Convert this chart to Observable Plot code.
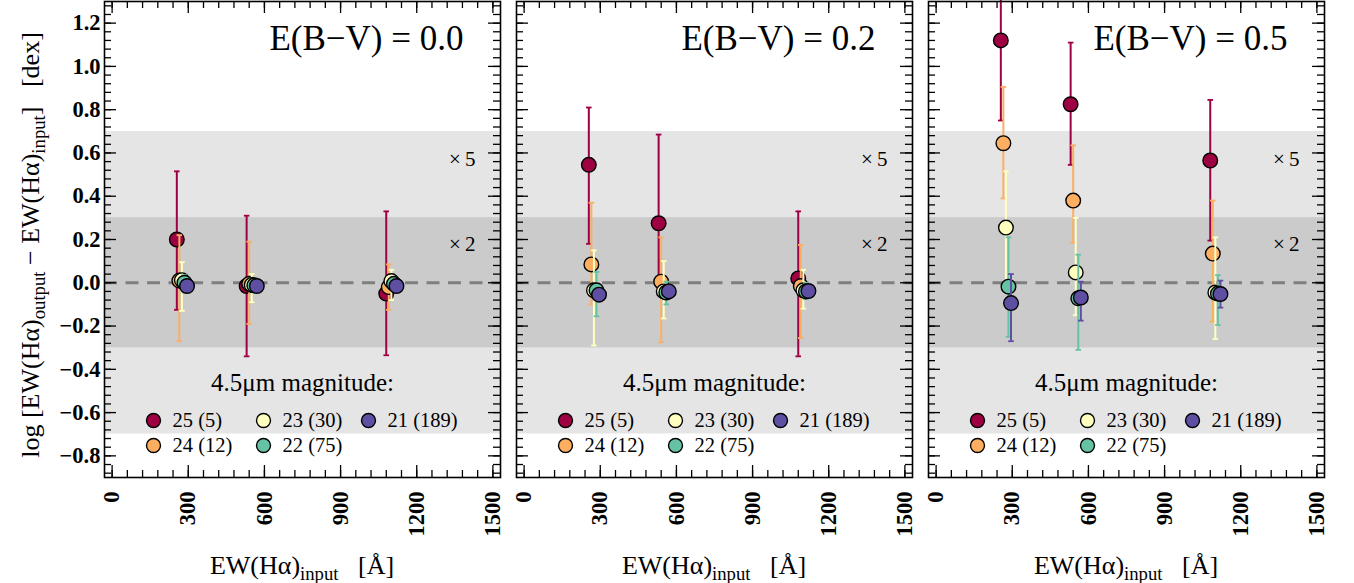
<!DOCTYPE html>
<html>
<head>
<meta charset="utf-8">
<script src="https://cdn.jsdelivr.net/npm/d3@7"></script>
<script src="https://cdn.jsdelivr.net/npm/@observablehq/plot@0.6"></script>
<style>
  body { margin: 0; background: #fff; }
  #fig { position: relative; width: 1354px; height: 583px; overflow: hidden; font-family: "Liberation Serif", serif; }
  #fig svg { position: absolute; top: 0; }
  .lbl { position: absolute; white-space: nowrap; font-size: 26px; color: #000; line-height: 1; }
  .lbl sub { font-size: 0.72em; vertical-align: -0.3em; line-height: 0; }
</style>
</head>
<body>
<div id="fig"></div>
<script>
// Input Hα equivalent widths (Å) and the 4.5μm magnitude bins
const ewInput = [275, 550, 1100];
const magnitudes = [25, 24, 23, 22, 21];
const nSources = [5, 12, 30, 75, 189];
const magColors = ["#9e0142", "#fdae61", "#ffffbf", "#66c2a5", "#5e4fa2"];
const ebvValues = ["0.0", "0.2", "0.5"];
const xTicks = [0, 300, 600, 900, 1200, 1500];
const yTicks = [-0.8, -0.6, -0.4, -0.2, 0.0, 0.2, 0.4, 0.6, 0.8, 1.0, 1.2];

// log EW(output) - log EW(input); rows: magnitude 25..21, columns: EW input 275, 550, 1100
const offsetEbv00 = [
  [0.20, -0.015, -0.05],
  [0.01, -0.005, -0.02],
  [0.012, -0.01, 0.008],
  [0.0, -0.012, -0.005],
  [-0.015, -0.015, -0.015]
];
const lowerEbv00 = [
  [-0.125, -0.34, -0.335],
  [-0.27, -0.19, -0.125],
  [-0.13, -0.09, -0.08],
  [-0.045, -0.045, -0.04],
  [-0.035, -0.035, -0.03]
];
const upperEbv00 = [
  [0.515, 0.31, 0.33],
  [0.22, 0.19, 0.085],
  [0.095, 0.04, 0.06],
  [0.035, 0.015, 0.025],
  [0.005, 0.005, 0.0]
];

const offsetEbv02 = [
  [0.545, 0.275, 0.02],
  [0.085, 0.005, -0.015],
  [-0.035, -0.04, -0.035],
  [-0.035, -0.045, -0.04],
  [-0.055, -0.04, -0.038]
];
const lowerEbv02 = [
  [0.18, -0.02, -0.34],
  [-0.10, -0.275, -0.255],
  [-0.29, -0.165, -0.12],
  [-0.155, -0.10, -0.075],
  [-0.085, -0.065, -0.06]
];
const upperEbv02 = [
  [0.81, 0.685, 0.33],
  [0.37, 0.21, 0.175],
  [0.15, 0.10, 0.06],
  [0.05, 0.005, 0.0],
  [-0.025, -0.015, -0.015]
];

const offsetEbv05 = [
  [1.12, 0.825, 0.565],
  [0.645, 0.38, 0.135],
  [0.255, 0.048, -0.045],
  [-0.018, -0.072, -0.05],
  [-0.094, -0.068, -0.052]
];
const lowerEbv05 = [
  [0.75, 0.545, 0.195],
  [0.39, 0.185, -0.18],
  [-0.01, -0.15, -0.26],
  [-0.25, -0.31, -0.195],
  [-0.27, -0.175, -0.115]
];
const upperEbv05 = [
  [1.45, 1.11, 0.845],
  [0.905, 0.635, 0.38],
  [0.515, 0.30, 0.21],
  [0.21, 0.13, 0.035],
  [0.04, 0.005, 0.01]
];

const panels = [
  {ebv: ebvValues[0], offset: offsetEbv00, lower: lowerEbv00, upper: upperEbv00},
  {ebv: ebvValues[1], offset: offsetEbv02, lower: lowerEbv02, upper: upperEbv02},
  {ebv: ebvValues[2], offset: offsetEbv05, lower: lowerEbv05, upper: upperEbv05}
];

// factor-of-5 and factor-of-2 bands
const bands = [
  {lo: -Math.log10(5), hi: Math.log10(5), fill: "#e5e5e5"},
  {lo: -Math.log10(2), hi: Math.log10(2), fill: "#cbcbcb"}
];
const bandLabels = [{text: "×\u20095", y: 0.57}, {text: "×\u20092", y: 0.18}];

// layout
const frameW = 396;
const frameLeft = [104, 516, 928];
const marginTop = 1, marginBottom = 106, H = 583;
const frameH = H - marginTop - marginBottom;
const dodgePx = 2.55;

const xMinor = d3.range(0, 1501, 60);
const yMinor = d3.range(-22, 33).map(i => i * 0.04);
const fmtY = d => (d < -1e-9 ? "\u2212" : "") + Math.abs(d).toFixed(1);

// horizontal error-bar cap
const capSymbol = {
  draw(context, size) {
    const r = Math.sqrt(size / Math.PI);
    context.moveTo(-r, 0);
    context.lineTo(r, 0);
  }
};

const legendCol = [0, 0, 1, 1, 2];
const legendRow = [0, 1, 0, 1, 0];
const legendDotDx = [49, 159, 264];
const legendTextDx = [68, 178, 283];
const legendRowDy = [419, 444];

const fig = document.getElementById("fig");

panels.forEach((p, pi) => {
  const showY = pi === 0;
  const ml = showY ? 104 : 6;
  const mr = 12;
  const marks = [];

  bands.forEach(b => marks.push(Plot.rect([b], {y1: "lo", y2: "hi", fill: b.fill})));
  marks.push(Plot.ruleY([0], {stroke: "#7f7f7f", strokeWidth: 3, strokeDasharray: "13,8.5"}));
  marks.push(Plot.text(bandLabels, {y: "y", text: "text", frameAnchor: "right", dx: -25, textAnchor: "end",
    fontSize: 21, fontWeight: "normal"}));

  // inward ticks on all four sides
  const tk = {stroke: "black", strokeWidth: 1.3};
  marks.push(Plot.ruleX(xMinor, {x: d => d, insetTop: frameH - 7, ...tk}));
  marks.push(Plot.ruleX(xTicks, {x: d => d, insetTop: frameH - 12, ...tk}));
  marks.push(Plot.ruleX(xMinor, {x: d => d, insetBottom: frameH - 7, ...tk}));
  marks.push(Plot.ruleX(xTicks, {x: d => d, insetBottom: frameH - 12, ...tk}));
  marks.push(Plot.ruleY(yMinor, {y: d => d, insetRight: frameW - 7, ...tk}));
  marks.push(Plot.ruleY(yTicks, {y: d => d, insetRight: frameW - 12, ...tk}));
  marks.push(Plot.ruleY(yMinor, {y: d => d, insetLeft: frameW - 7, ...tk}));
  marks.push(Plot.ruleY(yTicks, {y: d => d, insetLeft: frameW - 12, ...tk}));

  // error bars and points, faintest bin drawn last
  magnitudes.forEach((m, k) => {
    const rows = ewInput.map((ew, j) => ({
      ew, mag: m, y: p.offset[k][j], lo: p.lower[k][j], hi: p.upper[k][j]
    }));
    const dx = (k - 2) * dodgePx;
    const c = magColors[k];
    marks.push(Plot.ruleX(rows, {x: "ew", y1: "lo", y2: "hi", stroke: c, strokeWidth: 2, dx}));
    marks.push(Plot.dot(rows, {x: "ew", y: "lo", symbol: capSymbol, r: 2.8, fill: "none", stroke: c, strokeWidth: 1.8, dx}));
    marks.push(Plot.dot(rows, {x: "ew", y: "hi", symbol: capSymbol, r: 2.8, fill: "none", stroke: c, strokeWidth: 1.8, dx}));
    marks.push(Plot.dot(rows, {x: "ew", y: "y", r: 7.3, fill: c, stroke: "black", strokeWidth: 1.4, dx}));
  });

  // title and legend
  marks.push(Plot.text([`E(B\u2212V) = ${p.ebv}`], {frameAnchor: "top-right", dx: -37, dy: 24,
    textAnchor: "end", lineAnchor: "top", fontSize: 35, fontWeight: "normal"}));
  marks.push(Plot.text(["4.5\u03bcm magnitude:"], {frameAnchor: "top", dy: 381, lineAnchor: "middle",
    fontSize: 25, fontWeight: "normal"}));
  magnitudes.forEach((m, k) => {
    const col = legendCol[k], row = legendRow[k];
    marks.push(Plot.dot([m], {frameAnchor: "top-left", dx: legendDotDx[col], dy: legendRowDy[row],
      r: 7, fill: magColors[k], stroke: "black", strokeWidth: 1.4}));
    marks.push(Plot.text([`${m} (${nSources[k]})`], {frameAnchor: "top-left", dx: legendTextDx[col],
      dy: legendRowDy[row], textAnchor: "start", lineAnchor: "middle", fontSize: 20.5, fontWeight: "normal"}));
  });

  marks.push(Plot.frame({stroke: "black", strokeWidth: 1.6}));

  const svg = Plot.plot({
    width: ml + frameW + mr,
    height: H,
    marginLeft: ml,
    marginRight: mr,
    marginTop,
    marginBottom,
    x: {domain: [-30, 1530], ticks: xTicks, tickSize: 0, tickRotate: -90, tickPadding: 14,
        tickFormat: d => String(d), label: null},
    y: {domain: [-0.9, 1.3], ticks: yTicks, tickSize: 0, tickPadding: 4, tickFormat: fmtY,
        label: null, axis: showY ? "left" : null},
    style: {fontFamily: "Liberation Serif", fontSize: "22.5px", fontWeight: "bold", background: "transparent", color: "black"},
    marks
  });
  svg.style.left = (frameLeft[pi] - ml) + "px";
  fig.appendChild(svg);

  const xl = document.createElement("div");
  xl.className = "lbl";
  xl.innerHTML = "EW(H\u03b1)<sub>input</sub>&nbsp;&nbsp;&nbsp;[\u00c5]";
  xl.style.left = (frameLeft[pi] + frameW / 2) + "px";
  xl.style.top = "566px";
  xl.style.transform = "translate(-50%, -50%)";
  fig.appendChild(xl);
});

const yl = document.createElement("div");
yl.className = "lbl";
yl.innerHTML = "log&nbsp;[EW(H\u03b1)<sub>output</sub> \u2212 EW(H\u03b1)<sub>input</sub>]&nbsp;&nbsp;&nbsp;[dex]";
yl.style.left = "31px";
yl.style.top = "245px";
yl.style.transform = "translate(-50%, -50%) rotate(-90deg)";
fig.appendChild(yl);
</script>
</body>
</html>
